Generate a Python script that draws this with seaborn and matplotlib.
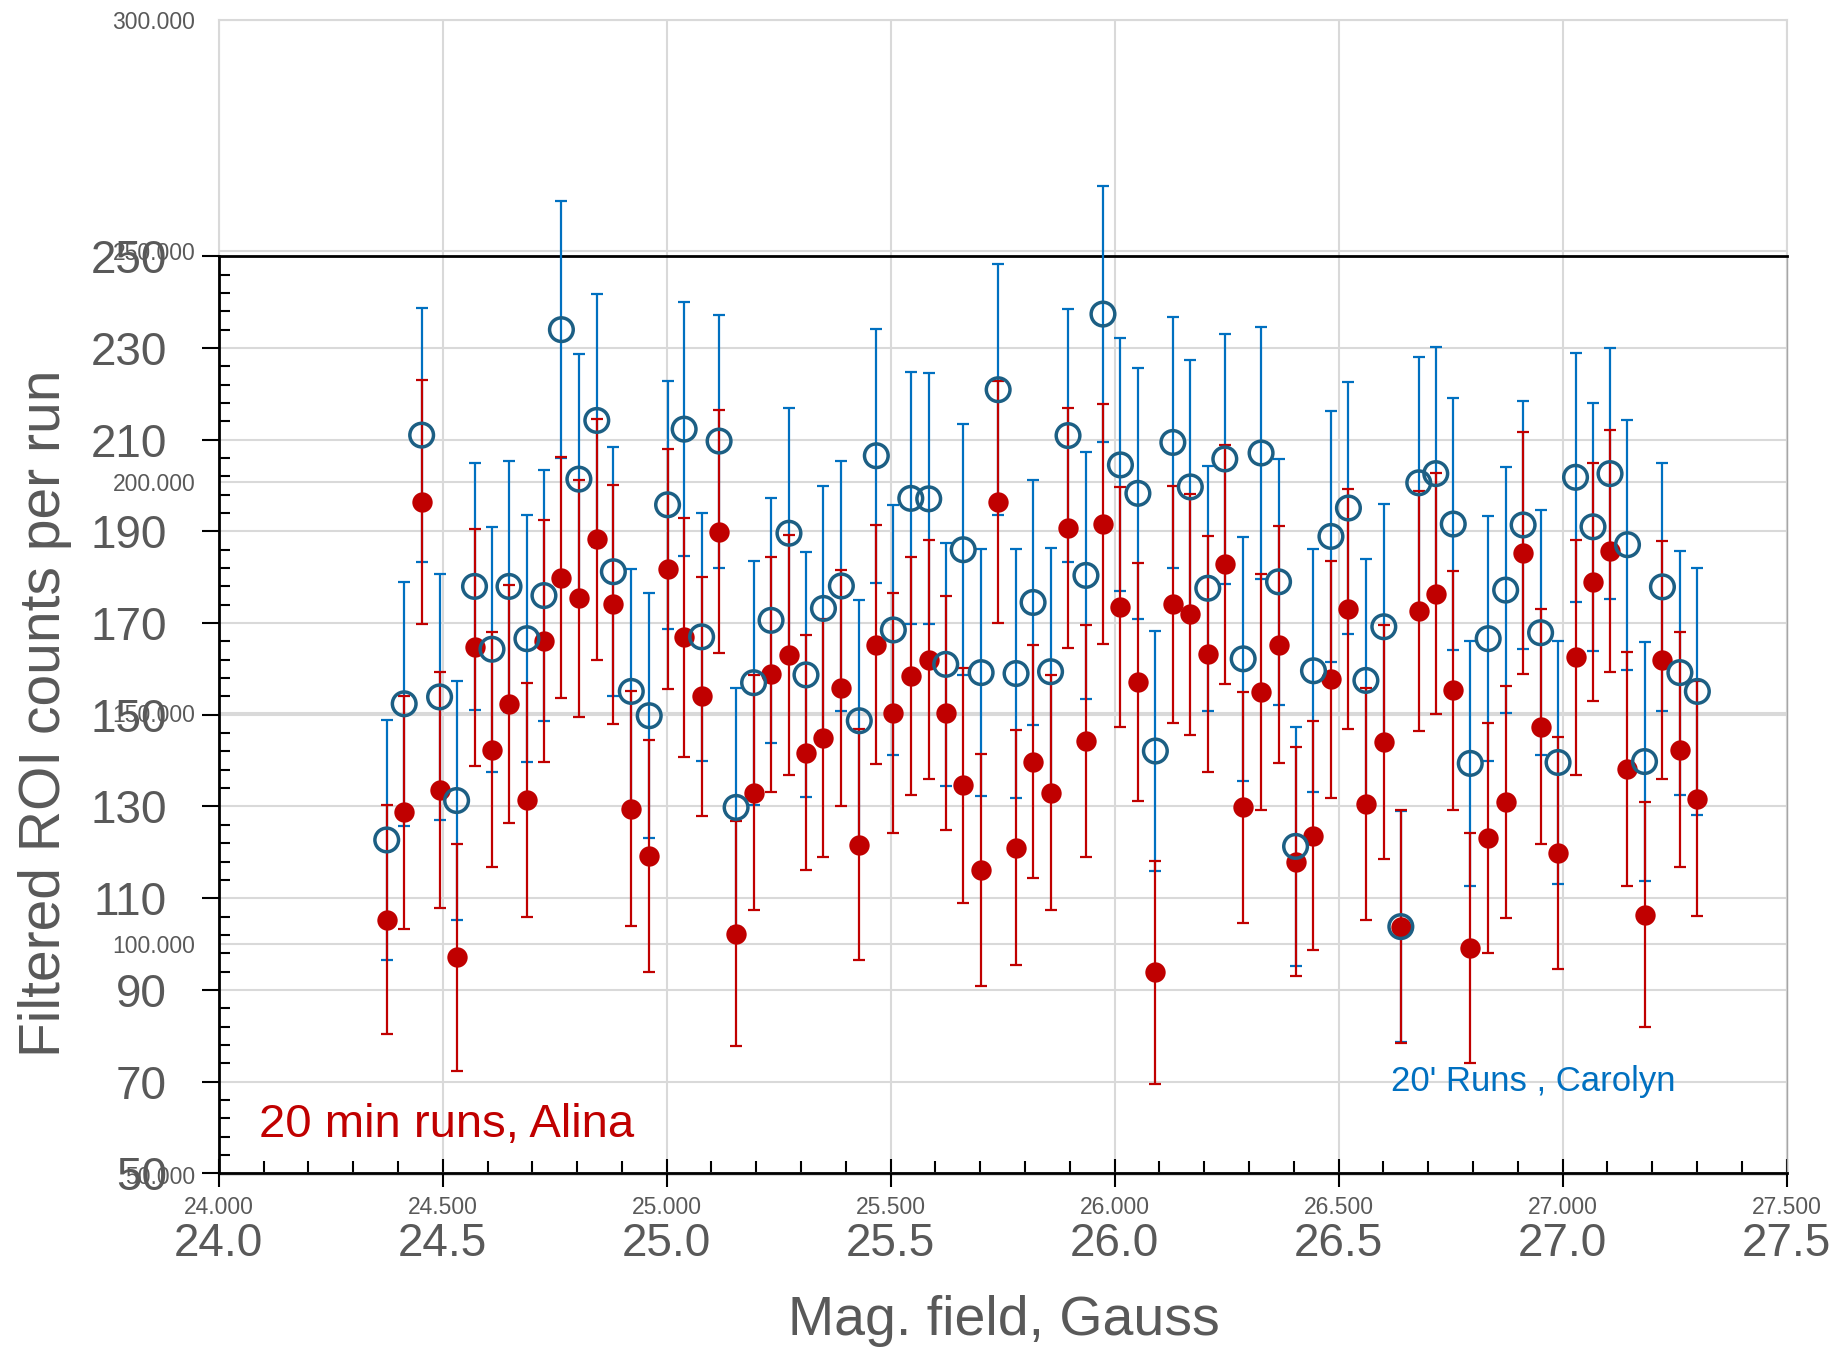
import numpy as np
import seaborn as sns
import matplotlib.pyplot as plt
from matplotlib.ticker import MultipleLocator, FormatStrFormatter

# magnetic field of each run (Gauss)
field = [24.375, 24.414, 24.453, 24.493, 24.531, 24.571, 24.610, 24.648, 24.688, 24.726,
         24.765, 24.804, 24.844, 24.881, 24.921, 24.961, 25.002, 25.039, 25.078, 25.117,
         25.155, 25.194, 25.233, 25.273, 25.311, 25.350, 25.390, 25.430, 25.468, 25.506,
         25.545, 25.585, 25.623, 25.662, 25.702, 25.740, 25.780, 25.818, 25.857, 25.896,
         25.936, 25.974, 26.013, 26.052, 26.091, 26.130, 26.169, 26.208, 26.246, 26.287,
         26.327, 26.366, 26.404, 26.444, 26.483, 26.522, 26.561, 26.601, 26.639, 26.679,
         26.717, 26.756, 26.794, 26.834, 26.873, 26.912, 26.951, 26.990, 27.029, 27.068,
         27.106, 27.145, 27.183, 27.223, 27.262, 27.301]

# 20 min runs, Alina (red dots)
alina = [105.3, 128.7, 196.4, 133.6, 97.1, 164.7, 142.4, 152.4, 131.4, 166.0,
         179.9, 175.4, 188.3, 174.1, 129.5, 119.1, 181.8, 166.9, 154.0, 189.9,
         102.3, 133.0, 158.8, 163.1, 141.7, 145.0, 155.8, 121.7, 165.3, 150.4,
         158.4, 162.0, 150.4, 134.6, 116.1, 196.4, 121.0, 139.8, 133.0, 190.8,
         144.3, 191.6, 173.5, 157.2, 93.8, 174.1, 171.9, 163.3, 182.8, 129.8,
         155.0, 165.3, 118.0, 123.6, 157.7, 173.1, 130.5, 144.1, 103.8, 172.6,
         176.4, 155.3, 99.1, 123.2, 130.9, 185.3, 147.4, 119.9, 162.5, 179.0,
         185.8, 138.1, 106.4, 162.0, 142.4, 131.7]
alina_err = [25.0, 25.4, 26.7, 25.7, 24.8, 25.8, 25.6, 26.0, 25.6, 26.4,
             26.3, 25.9, 26.3, 26.1, 25.6, 25.3, 26.1, 26.1, 26.0, 26.5,
             24.6, 25.6, 25.7, 26.2, 25.6, 26.0, 25.8, 25.1, 26.1, 26.1,
             26.0, 26.1, 25.6, 25.7, 25.3, 26.3, 25.6, 25.4, 25.6, 26.2,
             25.3, 26.2, 26.2, 25.9, 24.4, 25.9, 26.2, 25.7, 26.1, 25.2,
             25.8, 25.9, 24.9, 25.0, 25.9, 26.2, 25.3, 25.5, 25.4, 26.2,
             26.3, 26.0, 25.1, 25.1, 25.3, 26.3, 25.6, 25.3, 25.6, 26.0,
             26.4, 25.5, 24.6, 25.9, 25.6, 25.6]

# 20' runs, Carolyn (open circles)
carolyn = [122.7, 152.4, 211.0, 153.9, 131.3, 178.0, 164.3, 178.0, 166.6, 176.0,
           234.0, 201.4, 214.2, 181.2, 155.1, 149.8, 195.8, 212.3, 167.0, 209.7,
           129.8, 157.0, 170.6, 189.6, 158.7, 173.2, 178.1, 148.7, 206.5, 168.5,
           197.2, 197.1, 161.0, 186.0, 159.2, 220.9, 159.0, 174.5, 159.4, 210.9,
           180.4, 237.4, 204.5, 198.3, 142.1, 209.4, 199.7, 177.6, 205.8, 162.2,
           207.1, 179.0, 121.3, 159.6, 188.9, 195.1, 157.5, 169.2, 103.8, 200.6,
           202.6, 191.6, 139.4, 166.6, 177.2, 191.4, 167.9, 139.6, 201.8, 191.0,
           202.6, 187.1, 139.8, 177.9, 159.2, 155.1]
carolyn_err = [26.1, 26.6, 27.7, 26.9, 26.1, 26.9, 26.7, 27.3, 26.9, 27.4,
               28.0, 27.2, 27.6, 27.2, 26.6, 26.7, 27.1, 27.7, 27.0, 27.6,
               26.0, 26.6, 26.7, 27.4, 26.7, 26.8, 27.2, 26.3, 27.7, 27.2,
               27.5, 27.4, 26.5, 27.4, 26.9, 27.4, 27.1, 26.8, 26.9, 27.6,
               26.9, 27.9, 27.6, 27.3, 26.1, 27.3, 27.6, 26.7, 27.3, 26.6,
               27.4, 26.8, 26.1, 26.5, 27.3, 27.4, 26.4, 26.7, 25.2, 27.4,
               27.6, 27.4, 26.7, 26.7, 26.9, 27.1, 26.7, 26.5, 27.1, 27.0,
               27.4, 27.3, 26.1, 27.1, 26.6, 27.0]

sns.set_style('white')
plt.rcParams['font.family'] = ['Liberation Sans', 'DejaVu Sans']

grey = '#595959'
gridc = '#D9D9D9'
red = '#C00000'
blue = '#0070C0'
ring = '#1C5F84'

fig = plt.figure(figsize=(18.41, 13.53), dpi=100)

# back axes: 50-300 scale with the small "x.000" labels
ax2 = fig.add_axes([0.11882, 0.13134, 0.85158, 0.85388])
ax2.set(xlim=(24, 27.5), ylim=(50, 300))
ax2.xaxis.set_major_locator(MultipleLocator(0.5))
ax2.yaxis.set_major_locator(MultipleLocator(50))
ax2.xaxis.set_major_formatter(FormatStrFormatter('%.3f'))
ax2.yaxis.set_major_formatter(FormatStrFormatter('%.3f'))
ax2.tick_params(length=0, colors=grey, labelsize=16.5)
ax2.tick_params(axis='y', pad=17)
ax2.tick_params(axis='x', pad=15)
ax2.grid(True, color=gridc, lw=1.5)
for s in ax2.spines.values():
    s.set_color(gridc)
    s.set_linewidth(1.5)

# front axes: 50-250 scale with the data
ax = fig.add_axes([0.11882, 0.13282, 0.85158, 0.67775])
ax.patch.set_alpha(0)
ax.set(xlim=(24, 27.5), ylim=(50, 250))
ax.set_yticks(np.arange(50, 251, 20))
ax.yaxis.set_minor_locator(MultipleLocator(4, offset=2))
ax.xaxis.set_major_locator(MultipleLocator(0.5))
ax.xaxis.set_minor_locator(MultipleLocator(0.1))
ax.xaxis.set_major_formatter(FormatStrFormatter('%.1f'))
ax.yaxis.set_major_formatter(FormatStrFormatter('%d'))
ax.set_axisbelow(True)
ax.yaxis.grid(True, which='major', color=gridc, lw=1.5)
ax.xaxis.grid(False)

ax.tick_params(which='both', left=True, bottom=True, top=False, right=False)
ax.tick_params(axis='y', which='major', direction='out', length=12.2, width=1.5,
               color='black', labelsize=33, labelcolor=grey, pad=25)
ax.tick_params(axis='y', which='minor', direction='in', length=8, width=1.5, color='black')
ax.tick_params(axis='x', which='major', direction='inout', length=19.5, width=1.5,
               color='black', labelsize=33, labelcolor=grey, pad=25)
ax.tick_params(axis='x', which='minor', direction='in', length=8.6, width=1.5, color='black')
for side in ['left', 'bottom', 'top']:
    ax.spines[side].set_color('black')
    ax.spines[side].set_linewidth(2)
ax.spines['right'].set_color('#A6A6A6')
ax.spines['right'].set_linewidth(1)

eb_b = ax.errorbar(field, carolyn, yerr=carolyn_err, fmt='none', ecolor=blue,
                   elinewidth=1.6, capsize=4.3, capthick=1.6, zorder=3)
eb_r = ax.errorbar(field, alina, yerr=alina_err, fmt='none', ecolor=red,
                   elinewidth=1.6, capsize=4.3, capthick=1.6, zorder=4)
for eb in [eb_b, eb_r]:
    for part in eb.lines:
        if part is None:
            continue
        items = part if isinstance(part, tuple) else [part]
        for it in items:
            it.set_clip_on(False)

sns.scatterplot(x=field, y=alina, ax=ax, color=red, s=215, linewidth=0, zorder=5)
sns.scatterplot(x=field, y=carolyn, ax=ax, facecolor='none', edgecolor=ring,
                s=290, linewidth=2.5, zorder=6)

ax.text(24.09, 60.6, '20 min runs, Alina', color=red, fontsize=34, va='center')
ax.text(26.617, 70.0, "20' Runs , Carolyn", color=blue, fontsize=25, va='center')

fig.text(45 / 1841, 1 - 713 / 1353, 'Filtered ROI counts per run', rotation=90,
         ha='center', va='center', fontsize=41, color=grey)
fig.text(1004 / 1841, 1 - 1321 / 1353, 'Mag. field, Gauss', ha='center', va='center',
         fontsize=40, color=grey)

fig.savefig('out.png', dpi=100)
